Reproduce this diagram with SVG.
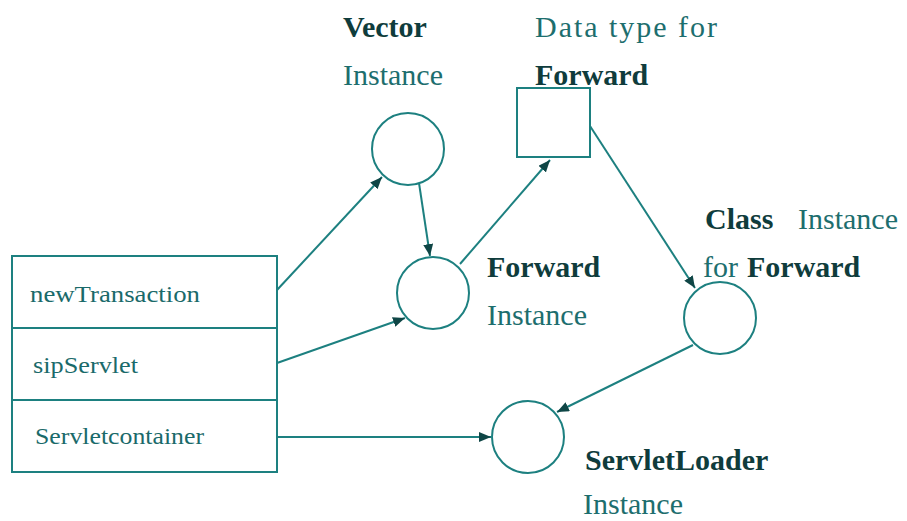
<svg xmlns="http://www.w3.org/2000/svg" width="907" height="521" viewBox="0 0 907 521" font-family="'Liberation Serif', 'Times New Roman', Times, serif">
  <defs>
    <marker id="arrow" viewBox="0 0 12 10" refX="12" refY="5" markerWidth="12" markerHeight="10" markerUnits="userSpaceOnUse" orient="auto">
      <path d="M0,0 L12,5 L0,10 z" fill="#0f4646"/>
    </marker>
    <style>
      .shape { fill: #ffffff; stroke: #1d8080; stroke-width: 2; }
      .edge { fill: none; stroke: #1d8080; stroke-width: 2; marker-end: url(#arrow); }
      text { font-family: 'Liberation Serif', 'Times New Roman', Times, serif; }
      .lbl { font-size: 30px; fill: #1d6e6e; }
      .bold { font-weight: bold; fill: #0f3c3c; }
      .field { font-size: 24px; fill: #1a6a6a; }
    </style>
  </defs>
  <rect width="907" height="521" fill="#ffffff"/>

  <!-- object with three fields -->
  <g id="servlet-object">
    <rect class="shape" x="12" y="256" width="265" height="216"/>
    <line class="shape" x1="12" y1="328" x2="277" y2="328"/>
    <line class="shape" x1="12" y1="400" x2="277" y2="400"/>
    <text class="field" x="30" y="302" textLength="170" lengthAdjust="spacingAndGlyphs">newTransaction</text>
    <text class="field" x="33" y="373" textLength="105" lengthAdjust="spacingAndGlyphs">sipServlet</text>
    <text class="field" x="35" y="444" textLength="169" lengthAdjust="spacingAndGlyphs">Servletcontainer</text>
  </g>

  <g id="vector-instance">
    <circle class="shape" cx="408" cy="149" r="36"/>
    <text class="lbl bold" x="343" y="37">Vector</text>
    <text class="lbl" x="343" y="85">Instance</text>
  </g>

  <g id="forward-datatype">
    <rect class="shape" x="517" y="88" width="73" height="69"/>
    <text class="lbl" x="535" y="37" textLength="182" lengthAdjust="spacing">Data type for</text>
    <text class="lbl bold" x="535" y="85">Forward</text>
  </g>

  <g id="forward-instance">
    <circle class="shape" cx="433" cy="293" r="36"/>
    <text class="lbl bold" x="487" y="277">Forward</text>
    <text class="lbl" x="487" y="325">Instance</text>
  </g>

  <g id="class-instance">
    <circle class="shape" cx="720" cy="318" r="36"/>
    <text class="lbl bold" x="705" y="229">Class</text>
    <text class="lbl" x="798" y="229">Instance</text>
    <text class="lbl" x="703" y="277">for</text>
    <text class="lbl bold" x="747" y="277">Forward</text>
  </g>

  <g id="servletloader-instance">
    <circle class="shape" cx="528" cy="437" r="36"/>
    <text class="lbl bold" x="585" y="470">ServletLoader</text>
    <text class="lbl" x="583" y="514">Instance</text>
  </g>

  <g id="connectors">
    <line class="edge" x1="277" y1="290" x2="382" y2="177"/>
    <line class="edge" x1="419" y1="183" x2="430" y2="256"/>
    <line class="edge" x1="277" y1="363" x2="405" y2="318"/>
    <line class="edge" x1="460" y1="264" x2="550" y2="160"/>
    <line class="edge" x1="590" y1="126" x2="695" y2="288"/>
    <line class="edge" x1="693" y1="345" x2="557" y2="412"/>
    <line class="edge" x1="277" y1="437" x2="491" y2="437"/>
  </g>
</svg>
